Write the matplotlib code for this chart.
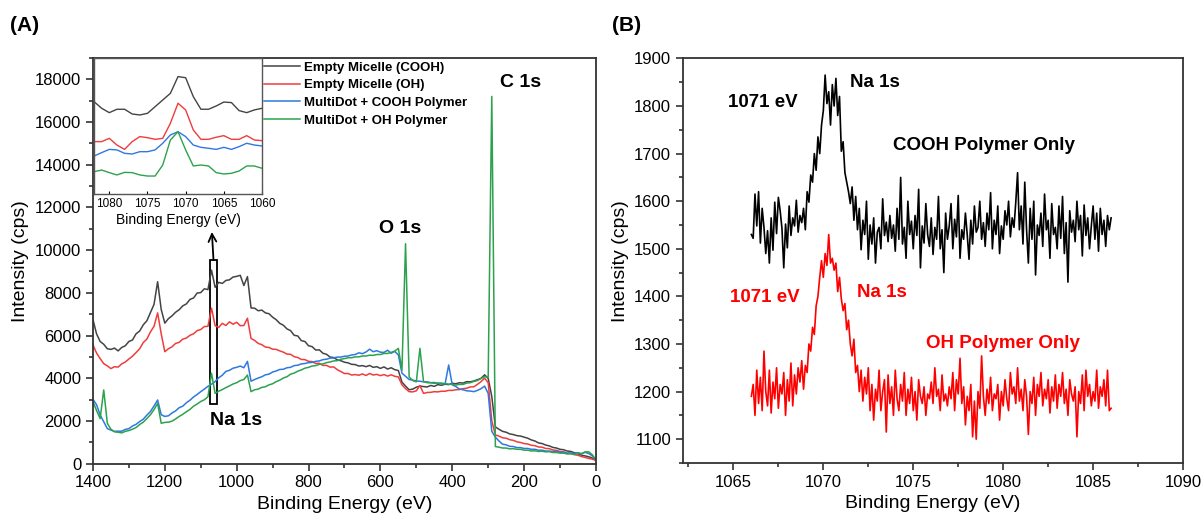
import numpy as np
import matplotlib
matplotlib.use("Agg")
import matplotlib.pyplot as plt
from matplotlib.ticker import MultipleLocator
from matplotlib.patches import Rectangle

plt.rcParams['font.family'] = ['Liberation Sans', 'DejaVu Sans']

# ---------------- panel A : survey spectra ----------------
be_survey = np.arange(1400, -1, -10)

cps_empty_cooh = [6750, 6080, 5720, 5590, 5380, 5350, 5410, 5280, 5440, 5520,
                  5720, 5790, 6080, 6210, 6500, 6690, 7080, 7460, 8520, 7220,
                  6580, 6790, 6920, 7090, 7210, 7390, 7480, 7690, 7760, 7990,
                  8010, 8190, 8150, 9060, 8260, 8490, 8440, 8580, 8610, 8740,
                  8770, 8820, 8340, 8760, 7290, 7280, 7160, 7190, 7060, 7020,
                  6860, 6740, 6570, 6480, 6310, 6230, 6010, 5980, 5760, 5720,
                  5520, 5480, 5320, 5330, 5170, 5120, 4990, 4970, 4860, 4820,
                  4750, 4720, 4650, 4640, 4570, 4590, 4540, 4600, 4510, 4540,
                  4460, 4530, 4430, 4490, 4400, 4360, 3820, 3630, 3460, 3490,
                  3580, 3630, 3610, 3590, 3660, 3620, 3700, 3670, 3720, 3700,
                  3760, 3740, 3790, 3770, 3840, 3830, 3870, 3930, 3990, 4160,
                  3990, 3150, 1720, 1610, 1510, 1470, 1390, 1360, 1310, 1290,
                  1240, 1190, 1110, 1060, 970, 940, 870, 830, 760, 730,
                  670, 650, 590, 570, 510, 460, 390, 360, 320, 260,
                  170]

cps_empty_oh = [5560, 5180, 4920, 4680, 4580, 4450, 4540, 4520, 4670, 4760,
                4900, 5030, 5200, 5380, 5670, 5830, 6170, 6430, 7060, 6080,
                5240, 5380, 5470, 5630, 5680, 5830, 5880, 6010, 6080, 6230,
                6280, 6420, 6430, 7280, 6460, 6380, 6570, 6470, 6640, 6530,
                6620, 6460, 6470, 6810, 5860, 5770, 5630, 5570, 5460, 5440,
                5360, 5350, 5280, 5220, 5130, 5120, 5010, 4970, 4880, 4870,
                4790, 4780, 4690, 4700, 4600, 4600, 4520, 4530, 4400, 4310,
                4220, 4220, 4150, 4170, 4140, 4200, 4130, 4220, 4150, 4180,
                4120, 4170, 4100, 4160, 4090, 4060, 3690, 3510, 3370, 3360,
                3410, 3660, 3290, 3330, 3340, 3370, 3360, 3390, 3390, 3430,
                3430, 3460, 3470, 3510, 3530, 3590, 3600, 3710, 3840, 4000,
                3790, 2010, 1340, 1290, 1210, 1190, 1120, 1090, 1020, 990,
                940, 920, 860, 840, 780, 770, 710, 700, 640, 620,
                570, 550, 490, 480, 420, 390, 330, 290, 240, 210,
                140]

cps_dot_cooh = [3010, 2760, 2280, 1960, 1640, 1570, 1510, 1520, 1520, 1600,
                1640, 1760, 1840, 1970, 2080, 2270, 2440, 2700, 2980, 2290,
                2210, 2240, 2370, 2470, 2620, 2690, 2850, 2970, 3120, 3240,
                3370, 3490, 3620, 3720, 3840, 4020, 4140, 4320, 4370, 4470,
                4510, 4570, 4490, 4790, 3860, 3940, 4010, 4070, 4160, 4190,
                4290, 4340, 4410, 4420, 4490, 4510, 4590, 4610, 4670, 4690,
                4730, 4740, 4790, 4810, 4870, 4890, 4940, 4950, 4990, 4990,
                5030, 5040, 5090, 5110, 5190, 5150, 5230, 5360, 5240, 5290,
                5220, 5210, 5310, 5170, 5260, 5090, 4240, 4090, 3940, 3910,
                3870, 3860, 3830, 3830, 3790, 3800, 3760, 3770, 3730, 4620,
                3690, 3610, 3490, 3460, 3410, 3400, 3370, 3430, 3510, 3630,
                3290, 1510, 1240, 1060, 910, 880, 810, 800, 750, 750,
                710, 710, 670, 670, 630, 630, 590, 590, 560, 570,
                530, 530, 490, 500, 470, 510, 460, 530, 470, 360,
                170]

cps_dot_oh = [2910, 2490, 2110, 3450, 1890, 1610, 1490, 1470, 1440, 1510,
              1550, 1610, 1690, 1830, 1940, 2110, 2290, 2530, 2820, 1890,
              1930, 1940, 1990, 2090, 2210, 2310, 2430, 2540, 2690, 2790,
              2910, 2990, 3130, 4230, 3290, 3390, 3470, 3560, 3640, 3730,
              3790, 3890, 3940, 4150, 3370, 3460, 3490, 3570, 3600, 3690,
              3740, 3840, 3910, 4010, 4070, 4190, 4240, 4330, 4390, 4470,
              4510, 4570, 4590, 4650, 4670, 4730, 4760, 4810, 4820, 4890,
              4920, 4960, 4960, 5000, 5000, 5040, 5040, 5080, 5070, 5110,
              5110, 5160, 5160, 5210, 5270, 5400, 4380, 10300, 4060, 3890,
              3830, 5400, 3850, 3790, 3790, 3760, 3770, 3750, 3750, 3720,
              3710, 3680, 3710, 3710, 3770, 3790, 3850, 3890, 3990, 4070,
              4050, 17200, 800, 770, 730, 730, 690, 700, 670, 670,
              630, 630, 590, 600, 570, 580, 550, 560, 520, 520,
              490, 490, 450, 460, 430, 480, 470, 550, 550, 410,
              170]

# inset (Na 1s region, relative scale)
be_inset = np.arange(1082, 1059, -1)
ins_empty_cooh = [67.9, 63.0, 59.8, 62.3, 62.3, 58.8, 58.1, 59.3, 64.2, 69.1, 74.0, 86.3,
                  85.5, 71.6, 62.3, 62.3, 64.7, 67.6, 67.2, 61.3, 59.8, 61.8, 63.0]
ins_empty_oh = [38.5, 38.5, 40.9, 36.0, 32.8, 38.5, 42.2, 41.4, 40.2, 40.9, 52.0, 66.7,
                61.8, 47.1, 40.2, 40.2, 41.7, 42.9, 40.2, 40.2, 42.9, 39.7, 39.2]
ins_dot_cooh = [27.9, 30.4, 32.8, 32.4, 29.9, 29.4, 31.1, 31.1, 32.4, 37.3, 43.4, 45.8,
                42.2, 36.0, 34.3, 33.6, 32.8, 34.3, 32.8, 34.8, 37.3, 36.0, 35.3]
ins_dot_oh = [16.4, 17.6, 15.7, 14.0, 15.9, 15.7, 14.0, 13.2, 13.2, 21.3, 39.7, 45.8,
              32.4, 20.6, 21.3, 20.6, 15.7, 14.7, 15.2, 16.9, 20.6, 20.6, 18.9]

labels = ['Empty Micelle (COOH)', 'Empty Micelle (OH)',
          'MultiDot + COOH Polymer', 'MultiDot + OH Polymer']
colors = ['#444444', '#f03c3c', '#2f78e0', '#2ca24e']

# ---------------- panel B : Na 1s high resolution ----------------
be_na = np.linspace(1066, 1086, 201)
na_cooh = [1530, 1522, 1615, 1548, 1620, 1512, 1585, 1545, 1490, 1538,
           1470, 1565, 1497, 1598, 1532, 1608, 1580, 1543, 1460, 1552,
           1502, 1590, 1528, 1565, 1548, 1602, 1535, 1570, 1555, 1585,
           1540, 1620, 1598, 1655, 1640, 1700, 1665, 1735, 1700, 1760,
           1790, 1865, 1805, 1830, 1760, 1845, 1800, 1858, 1780, 1820,
           1705, 1725, 1660, 1640, 1620, 1595, 1630, 1560, 1610, 1540,
           1585, 1498, 1560, 1530, 1600, 1478, 1550, 1510, 1565, 1470,
           1535, 1545, 1500, 1605, 1528, 1556, 1515, 1570, 1522, 1550,
           1495, 1585, 1520, 1650, 1510, 1545, 1480, 1600, 1530, 1558,
           1500, 1570, 1528, 1625, 1460, 1548, 1512, 1595, 1530, 1505,
           1565, 1488, 1545, 1520, 1610, 1500, 1540, 1450, 1575, 1520,
           1548, 1595, 1500, 1562, 1525, 1612, 1480, 1540, 1520, 1575,
           1530, 1478, 1560, 1510, 1590, 1535, 1545, 1600, 1520, 1555,
           1505, 1575, 1540, 1618, 1500, 1560, 1530, 1590, 1490, 1548,
           1520, 1580, 1550, 1600, 1525, 1565, 1545, 1598, 1660, 1540,
           1590, 1510, 1640, 1540, 1470, 1585, 1520, 1600, 1445, 1550,
           1528, 1575, 1505, 1615, 1540, 1560, 1480, 1595, 1530, 1545,
           1500, 1590, 1522, 1610, 1490, 1555, 1430, 1580, 1535, 1560,
           1515, 1600, 1540, 1570, 1485, 1592, 1528, 1565, 1500, 1548,
           1590, 1520, 1575, 1495, 1585, 1530, 1560, 1505, 1570, 1540,
           1565]
na_oh = [1190, 1215, 1150, 1245, 1175, 1230, 1160, 1285, 1200, 1170,
         1245, 1155, 1220, 1185, 1250, 1165, 1215, 1195, 1240, 1150,
         1225, 1180, 1260, 1170, 1235, 1195, 1250, 1220, 1265, 1205,
         1255, 1240, 1300, 1285, 1335, 1320, 1380, 1400, 1440, 1475,
         1440, 1490, 1465, 1530, 1470, 1480, 1455, 1470, 1410, 1440,
         1395, 1370, 1385, 1330, 1350, 1300, 1275, 1310, 1240, 1255,
         1200, 1245, 1180, 1230, 1195, 1250, 1160, 1215, 1140, 1205,
         1180, 1245, 1160, 1200, 1225, 1115, 1235, 1175, 1210, 1150,
         1245, 1185, 1160, 1215, 1180, 1240, 1150, 1205, 1175, 1230,
         1160, 1200, 1140, 1225, 1190, 1175, 1210, 1150, 1195, 1185,
         1220, 1175, 1250, 1190, 1205, 1160, 1235, 1180, 1195, 1170,
         1210, 1185, 1240, 1160, 1225, 1195, 1270, 1175, 1210, 1130,
         1190, 1160, 1215, 1105, 1180, 1100, 1200, 1165, 1275, 1190,
         1150, 1205, 1175, 1230, 1160, 1195, 1185, 1215, 1140, 1200,
         1170, 1225, 1185, 1160, 1240, 1195, 1210, 1175, 1250, 1180,
         1205, 1160, 1225, 1190, 1110, 1200, 1175, 1230, 1150, 1215,
         1190, 1240, 1170, 1205, 1185, 1225, 1155, 1210, 1180, 1235,
         1165, 1215, 1190, 1240, 1175, 1205, 1150, 1225, 1195, 1180,
         1210, 1105, 1200, 1175, 1235, 1160, 1245, 1190, 1215, 1170,
         1200, 1180, 1245, 1165, 1210, 1190, 1225, 1170, 1245, 1160,
         1165]

spine_c = '#333333'


def style_axes(ax):
    for s in ax.spines.values():
        s.set_linewidth(1.3)
        s.set_color(spine_c)
    ax.tick_params(which='both', direction='out', color=spine_c, width=1.2,
                   top=False, right=False, labelsize=12)
    ax.tick_params(which='major', length=5)
    ax.tick_params(which='minor', length=3)


fig = plt.figure(figsize=(12.04, 5.29), dpi=100)

axA = fig.add_axes([0.0772, 0.1236, 0.4178, 0.7668])
series = [cps_empty_cooh, cps_empty_oh, cps_dot_cooh, cps_dot_oh]
handles = []
for y, c, lab in zip(series, colors, labels):
    h, = axA.plot(be_survey, y, color=c, lw=1.1, label=lab)
    handles.append(h)
axA.set_xlim(1400, 0)
axA.set_ylim(0, 19000)
axA.xaxis.set_major_locator(MultipleLocator(200))
axA.xaxis.set_minor_locator(MultipleLocator(100))
axA.yaxis.set_major_locator(MultipleLocator(2000))
axA.yaxis.set_minor_locator(MultipleLocator(1000))
style_axes(axA)
axA.set_xlabel('Binding Energy (eV)', fontsize=14)
axA.set_ylabel('Intensity (cps)', fontsize=14)

axA.text(266, 17870, 'C 1s', fontsize=14, fontweight='bold', ha='left', va='center')
axA.text(604, 11030, 'O 1s', fontsize=14, fontweight='bold', ha='left', va='center')
axA.text(1075, 2040, 'Na 1s', fontsize=14, fontweight='bold', ha='left', va='center')
axA.add_patch(Rectangle((1053.5, 2790), 22.1, 6745, fill=False, ec='black', lw=1.3))
axA.annotate('', xy=(1069, 10850), xytext=(1064.5, 9535),
             arrowprops=dict(arrowstyle='->', lw=1.3, color='black',
                             mutation_scale=14, shrinkA=0, shrinkB=0))

fig.legend(handles=handles, labels=labels, loc='upper left',
           bbox_to_anchor=(0.2185, 0.8866), frameon=False,
           prop={'size': 9.5, 'weight': 'bold'}, handlelength=2.7,
           handletextpad=0.3, labelspacing=0.42, borderpad=0.1,
           borderaxespad=0)

# inset
axI = fig.add_axes([0.0781, 0.6333, 0.1395, 0.2571])
for y, c in zip([ins_empty_cooh, ins_empty_oh, ins_dot_cooh, ins_dot_oh], colors):
    axI.plot(be_inset, y, color=c, lw=1.0)
axI.set_xlim(1082, 1060)
axI.set_ylim(0, 100)
axI.set_yticks([])
axI.xaxis.set_major_locator(MultipleLocator(5))
for s in axI.spines.values():
    s.set_linewidth(1.0)
    s.set_color('#555555')
axI.tick_params(axis='x', direction='in', length=2, labelsize=8.5, pad=3)
axI.set_xlabel('Binding Energy (eV)', fontsize=10, labelpad=2)

# panel B
axB = fig.add_axes([0.5673, 0.1248, 0.4153, 0.7648])
axB.plot(be_na, na_cooh, color='black', lw=1.2)
axB.plot(be_na, na_oh, color='#ff0000', lw=1.2)
axB.set_xlim(1062.2, 1090)
axB.set_ylim(1050, 1900)
axB.xaxis.set_major_locator(MultipleLocator(5))
axB.xaxis.set_minor_locator(MultipleLocator(2.5))
axB.yaxis.set_major_locator(MultipleLocator(100))
axB.yaxis.set_minor_locator(MultipleLocator(50))
style_axes(axB)
axB.set_xlabel('Binding Energy (eV)', fontsize=14)
axB.set_ylabel('Intensity (cps)', fontsize=14)

tb = dict(fontsize=13.5, fontweight='bold', ha='left', va='center')
axB.text(1064.7, 1808, '1071 eV', color='black', **tb)
axB.text(1071.5, 1850, 'Na 1s', color='black', **tb)
axB.text(1073.9, 1716, 'COOH Polymer Only', color='black', **tb)
axB.text(1064.8, 1398, '1071 eV', color='#ff0000', **tb)
axB.text(1071.9, 1408, 'Na 1s', color='#ff0000', **tb)
axB.text(1075.7, 1301, 'OH Polymer Only', color='#ff0000', **tb)

fig.text(0.008, 0.952, '(A)', fontsize=15, fontweight='bold', va='center')
fig.text(0.508, 0.952, '(B)', fontsize=15, fontweight='bold', va='center')

fig.savefig('out.png', dpi=100)
